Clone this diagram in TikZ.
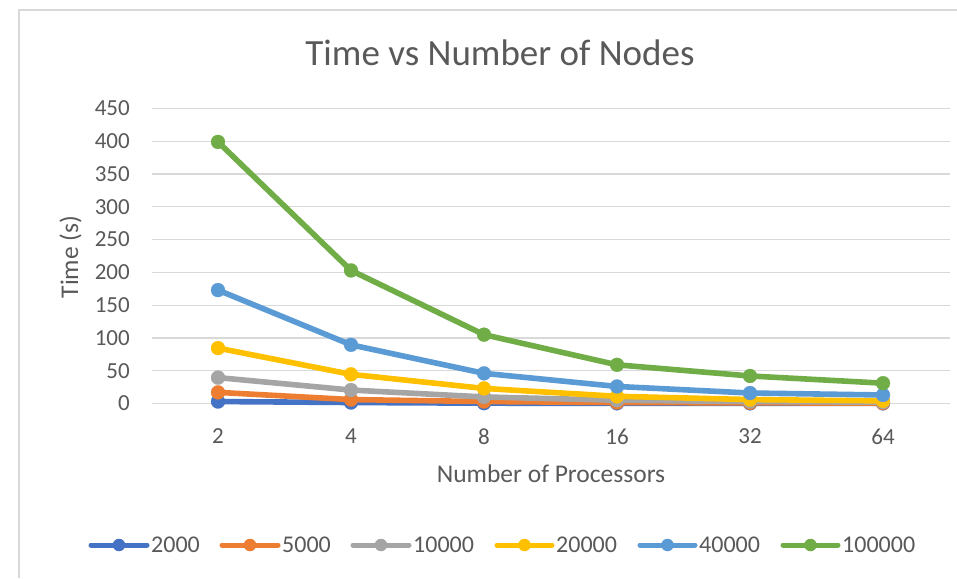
\documentclass[tikz,border=0pt]{standalone}
\usepackage{fontspec}
\setmainfont{Carlito}
\usetikzlibrary{calc}
\definecolor{txt}{HTML}{595959}
\definecolor{gridc}{HTML}{D9D9D9}
\definecolor{cA}{HTML}{4472C4}
\definecolor{cB}{HTML}{ED7D31}
\definecolor{cC}{HTML}{A5A5A5}
\definecolor{cD}{HTML}{FFC000}
\definecolor{cE}{HTML}{5B9BD5}
\definecolor{cF}{HTML}{70AD47}
\tikzset{
  gridline/.style={draw=gridc, line width=1.2pt},
  framel/.style={draw=gridc, line width=1.5pt},
  ser/.style={draw=#1, line width=5.6pt, line join=round, line cap=round,
     mark=*, mark size=7pt, mark options={fill=#1, draw=#1, line width=0.2pt}},
  legline/.style={draw=#1, line width=5pt, line cap=round},
  legmark/.style={circle, fill=#1, inner sep=0pt, minimum size=12.5pt},
  ticklab/.style={text=txt, inner sep=0pt, font=\fontsize{23}{23}\selectfont},
  legtxt/.style={text=txt, inner sep=0pt, anchor=west, font=\fontsize{24}{24}\selectfont},
}
\begin{document}
\begin{tikzpicture}[x=1pt,y=-1pt]
\useasboundingbox (0,0) rectangle (957,578);
\fill[white] (0,0) rectangle (957,578);
\draw[framel] (19,578) -- (19,10) -- (957,10);
% title
\node[text=txt, inner sep=0pt, anchor=base, font=\fontsize{37}{37}\selectfont] (title) at (500,66) {Time vs Number of Nodes};
% grid and y tick labels
\foreach \i in {0,...,9} {
  \draw[gridline] (152,{403.5-\i*32.78}) -- (950,{403.5-\i*32.78});
  \pgfmathtruncatemacro\lab{\i*50}
  \node[ticklab, anchor=east] (y\i) at (130,{403.5-\i*32.78}) {\lab};
}
% x tick labels
\foreach \lab [count=\k from 0] in {2,4,8,16,32,64} {
  \node[ticklab] (x\k) at ({218+133*\k},436.5) {\lab};
}
% axis titles
\node[text=txt, inner sep=0pt, anchor=base, font=\fontsize{25.5}{25.5}\selectfont] (xt) at (551,482) {Number of Processors};
\node[text=txt, inner sep=0pt, anchor=base, rotate=90, font=\fontsize{25.5}{25.5}\selectfont] (yt) at (78,257) {Time (s)};
% series
\begin{scope}[shift={(0,403.5)}, y=0.6556pt]
\draw[ser=cA] plot coordinates {(218,3) (351,1.5) (484,0.5) (617,0.3) (750,0.2) (883,0.2)};
\draw[ser=cB] plot coordinates {(218,17) (351,6) (484,3) (617,1.5) (750,1) (883,0.6)};
\draw[ser=cC] plot coordinates {(218,39.5) (351,20.5) (484,10) (617,5) (750,3) (883,2)};
\draw[ser=cD] plot coordinates {(218,84.5) (351,44.5) (484,23) (617,11) (750,6) (883,4)};
\draw[ser=cE] plot coordinates {(218,173) (351,89.5) (484,46) (617,26) (750,16) (883,13)};
\draw[ser=cF] plot coordinates {(218,399) (351,203) (484,105) (617,59) (750,42) (883,31)};
\end{scope}
% legend
\foreach \c/\a/\b/\t [count=\n] in {cA/91/147/2000, cB/222/278/5000, cC/353/409/10000, cD/497/552/20000, cE/640/695/40000, cF/783/838/100000} {
  \coordinate (ls\n) at (\a,545);
  \coordinate (le\n) at (\b,545);
  \draw[legline=\c] (ls\n) -- (le\n);
  \node[legmark=\c] (lm\n) at ($(ls\n)!0.5!(le\n)$) {};
  \node[legtxt] (lt\n) at ({\b+4},545) {\t};
}
\end{tikzpicture}
\end{document}
